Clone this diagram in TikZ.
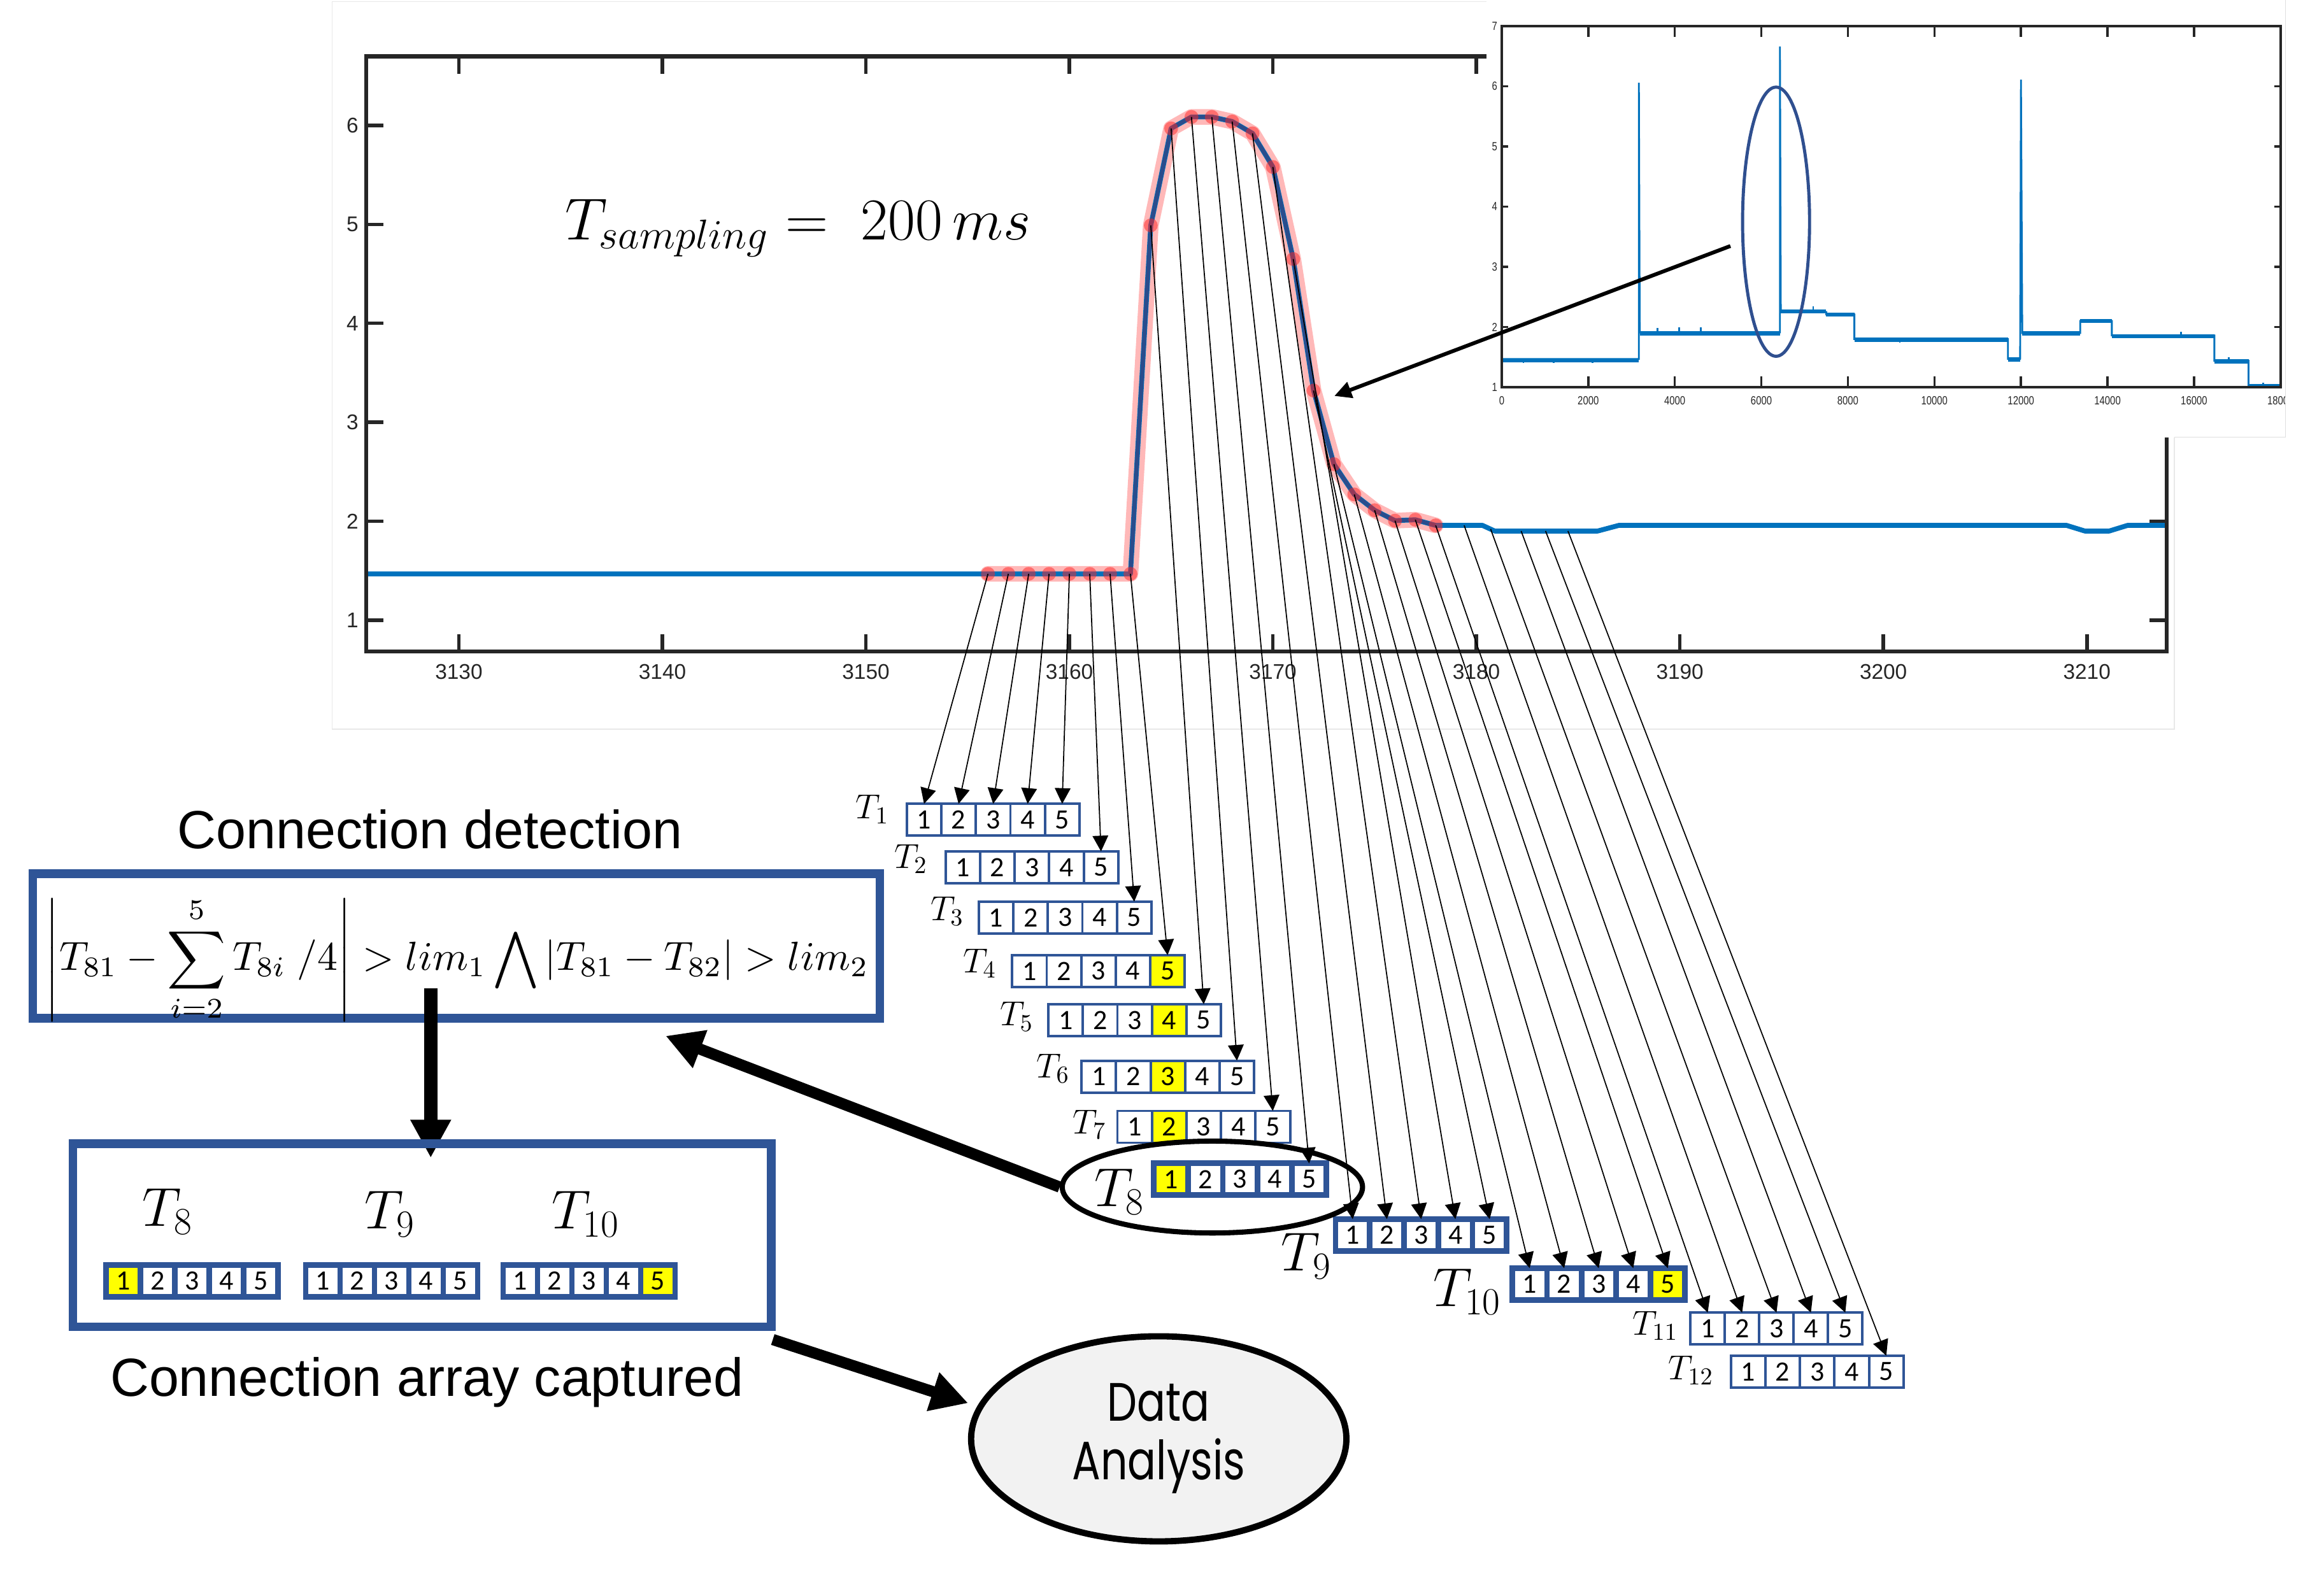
\documentclass[tikz,border=0pt]{standalone}
\usepackage{fix-cm}
\usepackage{amsmath}
\usepackage{graphicx}
\usepackage[no-math]{fontspec}
\newfontfamily\arialf{Liberation Sans}
\newfontfamily\calf{Carlito}
\newfontfamily\comicf{Poppins}
\usetikzlibrary{arrows.meta,shapes.geometric}
\definecolor{fblue}{HTML}{2F5597}
\definecolor{mblue}{HTML}{0072BD}
\definecolor{navyc}{HTML}{2B4C8C}
\definecolor{hly}{HTML}{FFFF00}
\definecolor{axgray}{HTML}{262626}
\definecolor{ellblue}{HTML}{2F4F8F}
\definecolor{dafill}{HTML}{F2F2F2}
\def\U{0.023272cm}
\tikzset{
  cellbox/.style={draw=fblue, rectangle, inner sep=0pt, outer sep=0pt, minimum height=21.5*\U, font=\calf\fontsize{12.5}{13}\selectfont},
  thincell/.style={line width=1.1pt},
  thickcell/.style={line width=2.5pt},
  lbls/.style={inner sep=0pt, anchor=base east, font=\fontsize{15.5}{18}\selectfont},
  lblb/.style={inner sep=0pt, anchor=base east, font=\fontsize{24.5}{28}\selectfont},
  sarr/.style={draw=black, line width=0.5pt, -{Triangle[length=7pt,width=7pt]}},
  bigarr/.style={draw=black, line width=5pt, -{Triangle[length=16.5pt,width=17pt]}},
  insarr/.style={draw=black, line width=1.7pt, -{Triangle[length=7.6pt,width=7.3pt]}},
  bluebox/.style={draw=fblue, line width=3.8pt, rectangle, inner sep=0pt, outer sep=0pt},
  axisline/.style={draw=axgray, line width=1.8pt},
  tickline/.style={draw=axgray, line width=1.6pt},
  ticklab/.style={text=axgray, inner sep=0pt, font=\arialf\fontsize{9.5}{10}\selectfont},
  insetlab/.style={text=axgray, inner sep=0pt, font=\arialf\fontsize{5.3}{6}\selectfont},
  bigtext/.style={inner sep=0pt, anchor=base, font=\arialf\fontsize{24}{28}\selectfont},
}
\newcommand{\cellarray}[6]{%
  \foreach \i in {1,...,5}{%
    \ifnum\i=#4\relax\def\cf{hly}\else\def\cf{white}\fi
    \node[cellbox,#5,fill=\cf,minimum width=#6*\U] (#1c\i) at ({#2+(\i-0.5)*#6},{#3+10.75}) {\i};
  }%
}
\begin{document}
\begin{tikzpicture}[x=0.023272cm, y=-0.023272cm]
\useasboundingbox (0,0) rectangle (1568,1060);
\fill[white] (0,0) rectangle (1568,1060);

% main panel
\draw[gray!18, line width=0.4pt] (224,1) rectangle (1467,492);

\begin{scope}[shift={(309.6,418.4)}, x={(13.73*0.023272cm,0cm)}, y={(0cm,66.75*0.023272cm)}]
  % halo
  \draw[red, opacity=0.28, line width=7pt, line cap=round, line join=round]
    (26,0.467) -- (33,0.467) -- (34,3.99) -- (35,4.97) -- (36,5.086) -- (37,5.086) -- (38,5.04) -- (39,4.92) -- (40,4.58) -- (41,3.65) -- (42,2.32) -- (43,1.576) -- (44,1.27) -- (45,1.11) -- (46,1.005) -- (47,1.014) -- (48,0.957);
  % signal
  \draw[mblue, line width=2.2pt, line join=round]
    (-4.56,0.467) -- (33,0.467) -- (34,3.99) -- (35,4.97) -- (36,5.086) -- (37,5.086) -- (38,5.04) -- (39,4.92) -- (40,4.58) -- (41,3.65) -- (42,2.32) -- (43,1.576) -- (44,1.27) -- (45,1.11) -- (46,1.005) -- (47,1.014) -- (48,0.957)
    -- (50.3,0.957) -- (50.9,0.90) -- (55.96,0.90) -- (57,0.957) -- (79,0.957) -- (79.9,0.90) -- (81.1,0.90) -- (82,0.957) -- (83.93,0.957);
  \draw[navyc, line width=1.7pt, line join=round]
    (33,0.467) -- (34,3.99) -- (35,4.97) -- (36,5.086) -- (37,5.086) -- (38,5.04) -- (39,4.92) -- (40,4.58) -- (41,3.65) -- (42,2.32) -- (43,1.576) -- (44,1.27) -- (45,1.11) -- (46,1.005) -- (47,1.014) -- (48,0.957);
  % sample coordinates
  \foreach \n/\t/\v in {0/26/0.467,1/27/0.467,2/28/0.467,3/29/0.467,4/30/0.467,5/31/0.467,6/32/0.467,7/33/0.467,8/34/3.99,9/35/4.97,10/36/5.086,11/37/5.086,12/38/5.04,13/39/4.92,14/40/4.58,15/41/3.65,16/42/2.32,17/43/1.576,18/44/1.27,19/45/1.11,20/46/1.005,21/47/1.014,22/48/0.957,23/49.4/0.957,24/50.7/0.92,25/52.2/0.90,26/53.4/0.90,27/54.5/0.90}
    {\coordinate (s\n) at (\t,\v);}
  \foreach \n in {0,...,22}{\fill[red!85, opacity=0.5] (s\n) circle [radius=3.1pt];}
  % axes
  \draw[axisline] (-4.56,-0.319) rectangle (83.93,5.699);
  \foreach \k in {0,10,...,80}{
    \draw[tickline] (\k,-0.319) -- (\k,-0.142);
    \draw[tickline] (\k,5.699) -- (\k,5.522);
    \node[ticklab] at (\k,-0.524) {\the\numexpr3130+\k\relax};
  }
  \foreach \k in {0,...,5}{
    \draw[tickline] (-4.56,\k) -- (-3.70,\k);
    \draw[tickline] (83.93,\k) -- (83.07,\k);
    \node[ticklab, anchor=east] at (-4.92,\k) {\the\numexpr\k+1\relax};
  }
\end{scope}

\node[inner sep=0pt, anchor=base west, font=\fontsize{26.5}{30}\selectfont] (tsamp) at (381,162) {$T_{sampling}=\;200\,ms$};

% inset panel
\begin{scope}
  \clip (1003,0) rectangle (1542,295);
  \fill[white] (1003,0) rectangle (1542,295);
  \begin{scope}[shift={(1013.2,261.3)}, x={(29.194*0.023272cm,0cm)}, y={(0cm,40.62*0.023272cm)}]
    \draw[mblue, line width=0.8pt]
      (0,0.47) -- (3.17,0.47) -- (3.17,5.06) -- (3.19,0.91) -- (6.43,0.91) -- (6.43,5.66) -- (6.45,1.25) -- (7.5,1.25) -- (7.5,1.21) -- (8.15,1.21) -- (8.15,0.80) -- (11.7,0.80) -- (11.7,0.47) -- (11.98,0.47) -- (12.0,5.11) -- (12.03,0.90) -- (13.37,0.90) -- (13.37,1.10) -- (14.1,1.10) -- (14.1,0.86) -- (16.47,0.86) -- (16.47,0.44) -- (17.26,0.44) -- (17.26,0.02) -- (18,0.02);
    \draw[mblue, line width=1.8pt]
      (0,0.445) -- (3.17,0.445)
      (3.2,0.895) -- (6.43,0.895)
      (6.45,1.26) -- (7.5,1.26)
      (7.5,1.21) -- (8.15,1.21)
      (8.15,0.79) -- (11.7,0.79)
      (11.7,0.46) -- (11.98,0.46)
      (12.03,0.895) -- (13.37,0.895)
      (13.37,1.10) -- (14.1,1.10)
      (14.1,0.85) -- (16.47,0.85)
      (16.47,0.43) -- (17.26,0.43)
      (17.26,0.02) -- (18,0.02);
    \draw[mblue, line width=0.7pt]
      (0.5,0.47) -- (0.5,0.40) (1.2,0.47) -- (1.2,0.40) (2.1,0.47) -- (2.1,0.40)
      (3.6,0.9) -- (3.6,0.98) (4.1,0.9) -- (4.1,1.0) (4.6,0.9) -- (4.6,1.0)
      (7.2,1.25) -- (7.2,1.34) (9.2,0.79) -- (9.2,0.74) (15.7,0.85) -- (15.7,0.92)
      (16.8,0.44) -- (16.8,0.50) (17.6,0.02) -- (17.6,0.07);
    \draw[draw=axgray, line width=1.1pt] (0,0) rectangle (18,6);
    \foreach \k in {2,4,...,16}{
      \draw[draw=axgray, line width=1pt] (\k,0) -- (\k,0.18) (\k,6) -- (\k,5.82);
    }
    \foreach \k in {1,...,5}{
      \draw[draw=axgray, line width=1pt] (0,\k) -- (0.147,\k) (18,\k) -- (17.853,\k);
    }
    \foreach \k in {0,2,...,18}{
      \node[insetlab] at (\k,-0.226) {\scalebox{0.8}[1]{\the\numexpr\k*1000\relax}};
    }
    \foreach \k in {1,...,7}{
      \node[insetlab, anchor=east] at (-0.092,\k-1) {\scalebox{0.8}[1]{\k}};
    }
  \end{scope}
\end{scope}
\draw[gray!25, line width=0.4pt] (1542,0) -- (1542,295) -- (1467,295);
\node[draw=ellblue, line width=1.4pt, ellipse, inner sep=0pt, minimum width=45.2*\U, minimum height=181.6*\U] (iell) at (1198.3,149.6) {};
\coordinate (ia0) at (1167.5,166);
\coordinate (ia1) at (900.3,267.2);
\draw[insarr] (ia0) -- (ia1);

% sliding arrays
\cellarray{T1}{611.8}{542.4}{0}{thincell}{23.3}
\cellarray{T2}{638}{574.5}{0}{thincell}{23.3}
\cellarray{T3}{660.4}{608.4}{0}{thincell}{23.3}
\cellarray{T4}{682.9}{644.5}{5}{thincell}{23.3}
\cellarray{T5}{707.3}{677.6}{4}{thincell}{23.3}
\cellarray{T6}{729.7}{715.7}{3}{thincell}{23.3}
\cellarray{T7}{753.9}{749.6}{2}{thincell}{23.3}
\cellarray{T8}{778.4}{785}{1}{thickcell}{23.3}
\cellarray{T9}{901.1}{822.6}{0}{thickcell}{23.1}
\cellarray{T10}{1020.4}{855.7}{5}{thickcell}{23.3}
\cellarray{T11}{1140.6}{885.7}{0}{thincell}{23.2}
\cellarray{T12}{1167.8}{914.8}{0}{thincell}{23.3}

\node[lbls] (L1) at (600,552.2) {$T_{1}$};
\node[lbls] (L2) at (626,585.7) {$T_{2}$};
\node[lbls] (L3) at (650.5,621.2) {$T_{3}$};
\node[lbls] (L4) at (672.6,656.3) {$T_{4}$};
\node[lbls] (L5) at (697.5,692.2) {$T_{5}$};
\node[lbls] (L6) at (722,727.3) {$T_{6}$};
\node[lbls] (L7) at (746.7,765.1) {$T_{7}$};
\node[lblb] (L8) at (772.6,814.2) {$T_{8}$};
\node[lblb] (L9) at (898.6,857.3) {$T_{9}$};
\node[lblb] (L10) at (1013.2,881.7) {$T_{10}$};
\node[lbls] (L11) at (1132.4,901) {$T_{11}$};
\node[lbls] (L12) at (1156.4,931) {$T_{12}$};

% sample arrows
\foreach \s/\tg in {0/T1c1,1/T1c2,2/T1c3,3/T1c4,4/T1c5,5/T2c5,6/T3c5,7/T4c5,8/T5c5,9/T6c5,10/T7c5,11/T8c5,12/T9c1,13/T9c2,14/T9c3,15/T9c4,16/T9c5,17/T10c1,18/T10c2,19/T10c3,20/T10c4,21/T10c5,22/T11c1,23/T11c2,24/T11c3,25/T11c4,26/T11c5,27/T12c5}
  {\draw[sarr] (s\s) -- (\tg.north);}

% ellipse around T8
\node[draw=black, line width=2.3pt, ellipse, inner sep=0pt, minimum width=202.6*\U, minimum height=62*\U] (e8) at (818,801) {};

% connection detection
\node[bigtext] (cdt) at (290,572.7) {Connection detection};
\node[bluebox, minimum width=571.6*\U, minimum height=97.5*\U] (fbox) at (307.8,638.35) {};
\node[inner sep=0pt, anchor=base] (ftext) at (308.5,654.7) {\resizebox{12.916cm}{!}{$\displaystyle \left|T_{81}-\sum_{i=2}^{5}T_{8i}\;/4\right| > lim_1 \bigwedge |T_{81}-T_{82}| > lim_2$}};

\coordinate (dA) at (290.6,666.8);
\coordinate (dB) at (290.6,781.3);
\draw[draw=black, line width=5.9pt, -{Triangle[length=17pt,width=17pt]}] (dA) -- (dB);

\node[bluebox, minimum width=471.1*\U, minimum height=123.4*\U] (abox) at (284.75,833.5) {};
\cellarray{B8}{71.6}{853.5}{1}{thickcell}{23.2}
\cellarray{B9}{206.3}{853.5}{0}{thickcell}{23.2}
\cellarray{B10}{339.5}{853.5}{5}{thickcell}{23.2}
\node[lblb] (BL8) at (130.4,827.4) {$T_{8}$};
\node[lblb] (BL9) at (280.3,829) {$T_{9}$};
\node[lblb] (BL10) at (418.4,829) {$T_{10}$};
\node[bigtext] (cac) at (288,942) {Connection array captured};

% arrow from T8 ellipse to formula box
\coordinate (ft) at (449.1,699);
\draw[bigarr] (e8.west) -- (ft);

% data analysis
\node[draw=black, fill=dafill, line width=2.8pt, ellipse, inner sep=0pt, minimum width=253.2*\U, minimum height=138.4*\U, font=\comicf\fontsize{21}{22.5}\selectfont] (da) at (781.8,970.9) {\scalebox{0.9}[1.15]{\begin{tabular}{@{}c@{}}Data\\Analysis\end{tabular}}};
\coordinate (da0) at (521.4,903.9);
\coordinate (da1) at (653.2,946.8);
\draw[bigarr] (da0) -- (da1);
\end{tikzpicture}
\end{document}
